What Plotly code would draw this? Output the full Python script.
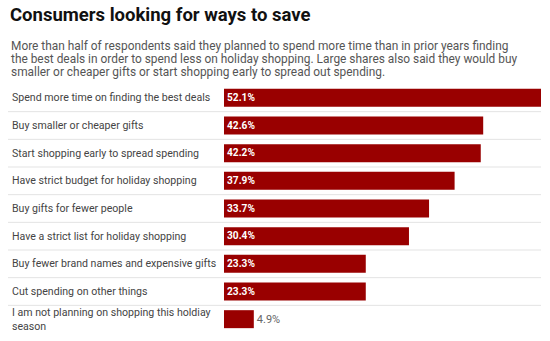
import plotly.graph_objects as go

categories = [
    "Spend more time on finding the best deals",
    "Buy smaller or cheaper gifts",
    "Start shopping early to spread spending",
    "Have strict budget for holiday shopping",
    "Buy gifts for fewer people",
    "Have a strict list for holiday shopping",
    "Buy fewer brand names and expensive gifts",
    "Cut spending on other things",
    "I am not planning on shopping this holdiay<br>season",
]
values = [52.1, 42.6, 42.2, 37.9, 33.7, 30.4, 23.3, 23.3, 4.9]
value_labels = ["52.1%", "42.6%", "42.2%", "37.9%", "33.7%", "30.4%", "23.3%", "23.3%", "4.9%"]

title = "Consumers looking for ways to save"
subtitle_lines = [
    "More than half of respondents said they planned to spend more time than in prior years finding",
    "the best deals in order to spend less on holiday shopping. Large shares also said they would buy",
    "smaller or cheaper gifts or start shopping early to spread out spending.",
]

W, H = 550, 341
ML, MR, MT, MB = 224, 9, 84, 8
plot_w = W - ML - MR
plot_h = H - MT - MB

ids = list(range(len(categories)))
positions = ["inside" if v > 10 else "outside" for v in values]
shown = ["<b>" + t + "</b>" if p == "inside" else t for t, p in zip(value_labels, positions)]

fig = go.Figure(go.Bar(
    x=values, y=ids, orientation="h",
    marker=dict(color="#990000", line=dict(width=0)),
    text=shown, textposition=positions,
    insidetextanchor="start",
    insidetextfont=dict(family="Roboto", size=11, color="white"),
    outsidetextfont=dict(family="Roboto", size=11, color="#666"),
    cliponaxis=False, hoverinfo="skip",
))

fig.update_layout(
    width=W, height=H,
    margin=dict(l=ML, r=MR, t=MT, b=MB),
    paper_bgcolor="white", plot_bgcolor="white",
    bargap=0.35, showlegend=False,
    font=dict(family="Roboto", color="#333"),
    xaxis=dict(range=[0, max(values)], visible=False, fixedrange=True),
    yaxis=dict(range=[len(categories) - 0.5, -0.5], visible=False, fixedrange=True),
)

x_label = (10 - ML) / plot_w
x_line0 = (8 - ML) / plot_w

def ypix(p):
    return 1 + (MT - p) / plot_h

annotations = [
    dict(text="<b>" + title + "</b>", xref="paper", yref="paper",
         x=(8 - ML) / plot_w, y=ypix(15),
         xanchor="left", yanchor="middle", showarrow=False, align="left",
         font=dict(family="Roboto", size=18.5, color="#111")),
]
for k, line in enumerate(subtitle_lines):
    annotations.append(dict(text=line, xref="paper", yref="paper",
                            x=(9 - ML) / plot_w, y=ypix(46 + 13 * k),
                            xanchor="left", yanchor="middle", showarrow=False, align="left",
                            font=dict(family="Roboto", size=11.9, color="#555")))
for i, c in enumerate(categories):
    annotations.append(dict(text=c, xref="paper", yref="y", x=x_label, y=i,
                            xanchor="left", yanchor="middle", showarrow=False,
                            align="left", font=dict(family="Roboto", size=10.6, color="#444")))
fig.update_layout(annotations=annotations)

shapes = []
for i in range(len(categories) - 1):
    shapes.append(dict(type="line", xref="paper", yref="y", x0=x_line0, x1=1.0,
                       y0=i + 0.5, y1=i + 0.5, line=dict(color="#e3e3e3", width=1)))
fig.update_layout(shapes=shapes)

fig.write_html("out.html")
